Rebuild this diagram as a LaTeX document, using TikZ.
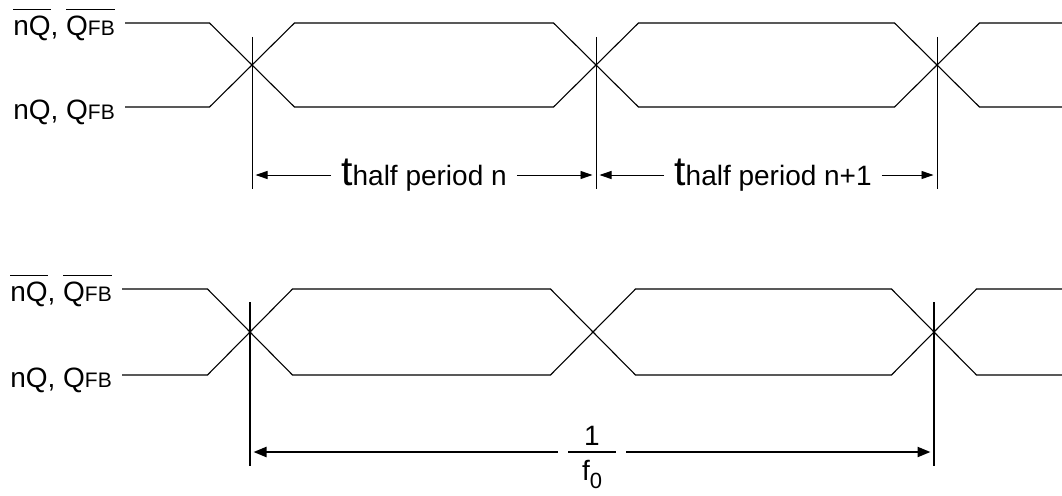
\documentclass[tikz,border=0pt]{standalone}
\usepackage{fontspec}
\setmainfont{Liberation Sans}
\usetikzlibrary{arrows.meta,positioning}
\setlength{\arrayrulewidth}{2pt}
\newcommand{\ovl}[1]{\vbox{\hrule height 1.2pt\kern 6pt\hbox{#1}}}
\newcommand{\fb}{{\fontsize{21}{25}\selectfont FB}}
\newcommand{\bigt}{{\fontsize{41}{45}\selectfont t}}

\begin{document}
\begin{tikzpicture}[x=1pt,y=-1pt,
  sig/.style={font=\fontsize{28}{32}\selectfont,inner xsep=10pt,inner ysep=0pt,text height=27pt,text depth=2pt,anchor=east},
  wave/.style={line width=1.1pt},
  thinline/.style={line width=0.9pt},
  thickline/.style={line width=2.2pt},
  dim/.style={-{Triangle[length=12pt,width=8pt]},line width=0.9pt,shorten >=3.5pt},
  dimthick/.style={-{Triangle[length=13pt,width=10pt]},line width=2.2pt,shorten >=3.5pt},
  dimlbl/.style={font=\fontsize{28}{32}\selectfont,inner xsep=10pt,inner ysep=0pt,text height=26pt,text depth=6pt}]
  \useasboundingbox (0,0) rectangle (1062,495);

  % Top panel labels
  \node[sig] (qbar1) at (125,23) {\ovl{nQ}, \ovl{Q\fb}};
  \node[sig] (q1) at (125,107) {nQ, Q\fb};
  % Top panel waveforms
  \draw[wave] (qbar1.east) -- (209.5,23) -- (294.5,107) -- (553.5,107) -- (638.5,23) -- (894.5,23) -- (979.5,107) -- (1062,107);
  \draw[wave] (q1.east) -- (209.5,107) -- (294.5,23) -- (553.5,23) -- (638.5,107) -- (894.5,107) -- (979.5,23) -- (1062,23);
  % Crossing markers
  \foreach \x/\n in {252/ta,596/tb,937/tc}{
    \draw[thinline] (\x,37) -- (\x,189);
    \coordinate (\n) at (\x,175);
  }
  % Half periods
  \node[dimlbl] (half1) at (424,175) {\bigt half period n};
  \draw[dim] (half1.west) -- (ta);
  \draw[dim] (half1.east) -- (tb);
  \node[dimlbl] (half2) at (773,175) {\bigt half period n+1};
  \draw[dim] (half2.west) -- (tb);
  \draw[dim] (half2.east) -- (tc);

  % Bottom panel labels
  \node[sig] (qbar2) at (122,289) {\ovl{nQ}, \ovl{Q\fb}};
  \node[sig] (q2) at (122,375) {nQ, Q\fb};
  % Bottom panel waveforms
  \draw[wave] (qbar2.east) -- (207.5,289) -- (292.5,375) -- (550.5,375) -- (635.5,289) -- (891.5,289) -- (976.5,375) -- (1062,375);
  \draw[wave] (q2.east) -- (207.5,375) -- (292.5,289) -- (550.5,289) -- (635.5,375) -- (891.5,375) -- (976.5,289) -- (1062,289);
  % Period markers
  \foreach \x/\n in {250/ba,934/bb}{
    \draw[thickline] (\x,302) -- (\x,466);
    \coordinate (\n) at (\x,452);
  }
  % Full period
  \node[font=\fontsize{28}{32}\selectfont,inner xsep=10pt,inner ysep=0pt] (period) at (592,452)
    {\renewcommand{\arraystretch}{0.5}\begin{tabular}{@{\hspace{14pt}}c@{\hspace{14pt}}}\rule[-5pt]{0pt}{36pt}1\\\hline\rule{0pt}{28pt}f\raisebox{-8pt}{\fontsize{22}{26}\selectfont 0}\end{tabular}};
  \draw[dimthick] (period.west) -- (ba);
  \draw[dimthick] (period.east) -- (bb);
\end{tikzpicture}
\end{document}
